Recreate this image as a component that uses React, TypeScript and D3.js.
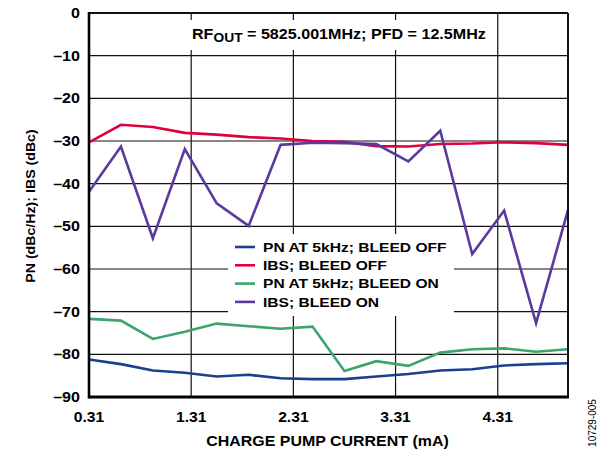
import React from "react";
import * as d3 from "d3";

const xValues = [0.3125, 0.625, 0.9375, 1.25, 1.5625, 1.875, 2.1875, 2.5, 2.8125, 3.125, 3.4375, 3.75, 4.0625, 4.375, 4.6875, 5.0];
const pnBleedOff = [-81.2, -82.3, -83.8, -84.3, -85.2, -84.8, -85.6, -85.8, -85.8, -85.2, -84.6, -83.8, -83.5, -82.6, -82.3, -82.1];
const ibsBleedOff = [-30.3, -26.2, -26.7, -28.1, -28.5, -29.1, -29.4, -30.0, -30.2, -31.2, -31.3, -30.7, -30.6, -30.3, -30.5, -30.9];
const pnBleedOn = [-71.7, -72.1, -76.4, -74.7, -72.8, -73.4, -74.0, -73.5, -83.9, -81.6, -82.7, -79.6, -78.8, -78.6, -79.4, -78.8];
const ibsBleedOn = [-41.9, -31.3, -52.8, -31.9, -44.6, -49.9, -30.9, -30.4, -30.5, -30.7, -34.8, -27.6, -56.5, -46.3, -72.7, -46.2];

const xTicks = [0.3125, 1.3125, 2.3125, 3.3125, 4.3125];
const yTicks = [0, -10, -20, -30, -40, -50, -60, -70, -80, -90];

const seriesNames = ["PN AT 5kHz; BLEED OFF", "IBS; BLEED OFF", "PN AT 5kHz; BLEED ON", "IBS; BLEED ON"];
const seriesColors = ["#1b3f8e", "#e0003c", "#3ca46c", "#5b3a9f"];
const seriesData = [pnBleedOff, ibsBleedOff, pnBleedOn, ibsBleedOn];

const L = 89, R = 568, T = 13, B = 397;
const FONT = "'Liberation Sans', Arial, sans-serif";

export default function App() {
  const x = d3.scaleLinear().domain([0.3125, 5.0]).range([L, R]);
  const y = d3.scaleLinear().domain([-90, 0]).range([B, T]);
  const line = d3.line<[number, number]>().x((d) => x(d[0])).y((d) => y(d[1]));
  const drawOrder = [1, 3, 2, 0];
  const SX = 1.15;

  return (
    <svg width={610} height={450} style={{ position: "absolute", left: 0, top: 0, background: "#fff" }} fontFamily={FONT}>
      {/* grid */}
      {yTicks.filter((v) => v !== 0 && v !== -90).map((v) => (
        <line key={"h" + v} x1={L} x2={R} y1={y(v)} y2={y(v)} stroke="#111" strokeWidth={1.2} />
      ))}
      {xTicks.slice(1).map((v) => (
        <line key={"v" + v} x1={x(v)} x2={x(v)} y1={T} y2={B} stroke="#111" strokeWidth={1.2} />
      ))}
      {/* title background */}
      <rect x={185} y={20} width={303} height={30} fill="#fff" />
      {/* legend background */}
      <rect x={228} y={234} width={226} height={82} fill="#fff" />
      {/* series */}
      {drawOrder.map((i) => (
        <path key={"s" + i} d={line(xValues.map((xv, j) => [xv, seriesData[i][j]]) as [number, number][]) || ""}
          fill="none" stroke={seriesColors[i]} strokeWidth={2.6} strokeLinejoin="miter" />
      ))}
      {/* frame */}
      <line x1={L} x2={R} y1={T} y2={T} stroke="#111" strokeWidth={2} />
      <line x1={R} x2={R} y1={T} y2={B} stroke="#111" strokeWidth={2} />
      <line x1={L} x2={L} y1={T - 1} y2={B + 1.5} stroke="#000" strokeWidth={2.6} />
      <line x1={L} x2={R + 1} y1={B} y2={B} stroke="#000" strokeWidth={2.8} />
      {/* title */}
      <text transform={`translate(192,38.5) scale(${SX},1)`} fontSize={14} fontWeight="bold" fill="#000">
        RF<tspan fontSize={12} dy={3.5}>OUT</tspan><tspan dy={-3.5}> = 5825.001MHz; PFD = 12.5MHz</tspan>
      </text>
      {/* legend */}
      {seriesNames.map((n, i) => (
        <g key={"l" + i}>
          <line x1={235} x2={255} y1={247 + i * 18.3} y2={247 + i * 18.3} stroke={seriesColors[i]} strokeWidth={2.6} />
          <text transform={`translate(263,${247 + i * 18.3}) scale(1.2,1)`} dy="0.36em" fontSize={13} fontWeight="bold" fill="#000">{n}</text>
        </g>
      ))}
      {/* y ticks */}
      {yTicks.map((v) => (
        <text key={"yt" + v} transform={`translate(80,${y(v)}) scale(${SX},1)`} dy="0.36em" textAnchor="end" fontSize={14} fontWeight="bold" fill="#000">
          {v === 0 ? "0" : "\u2013" + Math.abs(v)}
        </text>
      ))}
      {/* x ticks */}
      {xTicks.map((v) => (
        <text key={"xt" + v} transform={`translate(${x(v)},421.5) scale(1.12,1)`} textAnchor="middle" fontSize={14} fontWeight="bold" fill="#000">
          {v.toFixed(2)}
        </text>
      ))}
      {/* axis titles */}
      <text transform="translate(327.5,446) scale(1.14,1)" textAnchor="middle" fontSize={14} fontWeight="bold" fill="#000">CHARGE PUMP CURRENT (mA)</text>
      <text transform="translate(35,206) rotate(-90) scale(1.05,1)" textAnchor="middle" fontSize={13.5} fontWeight="bold" fill="#000">PN (dBc/Hz); IBS (dBc)</text>
      <text transform="translate(595.5,423) rotate(-90)" textAnchor="middle" fontSize={10} fill="#000">10729-005</text>
    </svg>
  );
}
